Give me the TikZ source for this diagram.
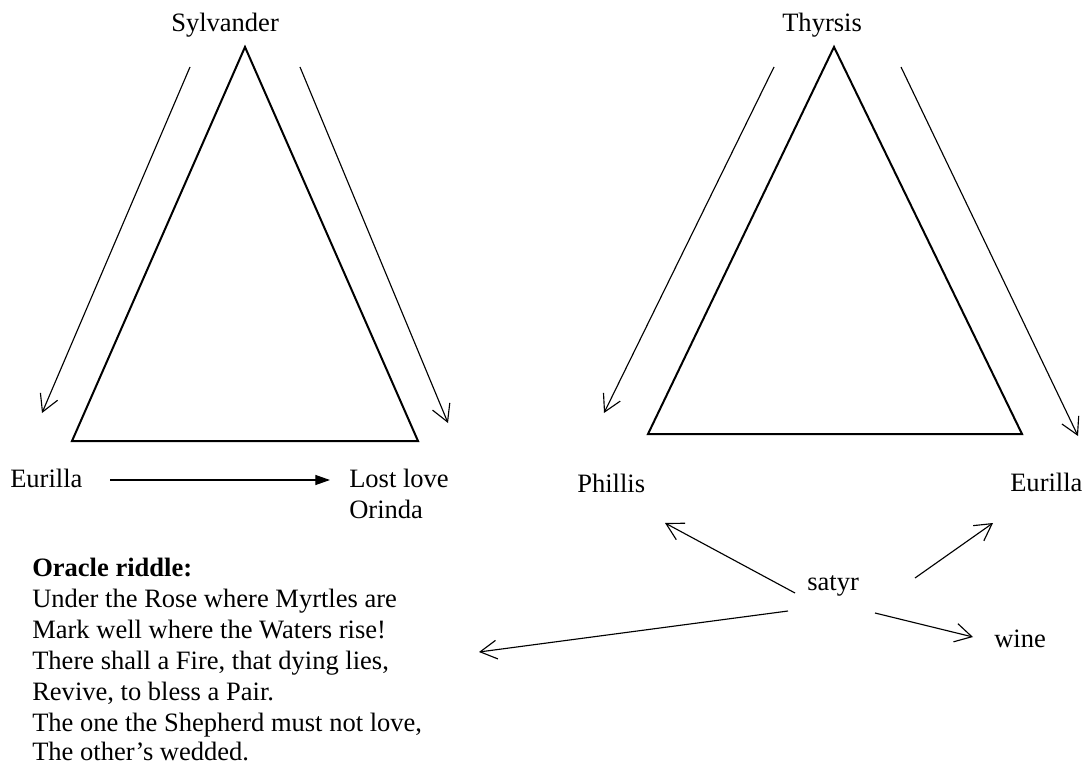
\documentclass[tikz,border=0pt]{standalone}
\usepackage{fontspec}
\setmainfont{Liberation Serif}
\usetikzlibrary{arrows.meta}
\begin{document}
\begin{tikzpicture}[x=0.75pt,y=-0.75pt,
  lbl/.style={inner sep=0pt, anchor=base west, font=\fontsize{19.9pt}{23pt}\selectfont},
  tri/.style={line width=1.5pt, line join=miter},
  side/.style={line width=0.85pt, -{Straight Barb[length=12.5pt,width=14pt,line width=0.85pt]}},
  fat/.style={line width=0.9pt, -{Triangle[length=11pt,width=7.5pt]}}]
\useasboundingbox (0,0) rectangle (1085,763);

% names
\node[lbl] (sylv) at (171,32) {Sylvander};
\node[lbl] (thyr) at (782,32) {Thyrsis};
\node[lbl] (eurA) at (10,487) {Eurilla};
\node[lbl] (lost) at (349,487) {Lost love};
\node[lbl] (orin) at (349,518) {Orinda};
\node[lbl] (phil) at (577,492) {Phillis};
\node[lbl] (eurB) at (1010,491) {Eurilla};
\node[lbl] (satyr) at (807,590) {satyr};
\node[lbl] (wine) at (994,647) {wine};

% left triangle and its side arrows
\coordinate (lA) at (245,47);
\coordinate (lB) at (72,441);
\coordinate (lC) at (418,441);
\draw[tri] (lA) -- (lB) -- (lC) -- cycle;
\coordinate (lls) at (190,67);  \coordinate (lle) at (42,413);
\coordinate (lrs) at (300,67);  \coordinate (lre) at (448,423);
\draw[side] (lls) -- (lle);
\draw[side] (lrs) -- (lre);

% right triangle and its side arrows
\coordinate (rA) at (834,47);
\coordinate (rB) at (648,434);
\coordinate (rC) at (1022,434);
\draw[tri] (rA) -- (rB) -- (rC) -- cycle;
\coordinate (rls) at (774,67);  \coordinate (rle) at (604,413);
\coordinate (rrs) at (901,67);  \coordinate (rre) at (1078,436);
\draw[side] (rls) -- (rle);
\draw[side] (rrs) -- (rre);

% Eurilla to lost love
\coordinate (eS) at (110,480);
\coordinate (eE) at (330,480);
\draw[fat] (eS) -- (eE);

% arrows from the satyr
\coordinate (s1) at (795,593); \coordinate (t1) at (665,523);
\coordinate (s2) at (915,578); \coordinate (t2) at (993,523);
\coordinate (s3) at (875,613); \coordinate (t3) at (973,637);
\coordinate (s4) at (788,611); \coordinate (t4) at (479,652);
\draw[side] (s1) -- (t1);
\draw[side] (s2) -- (t2);
\draw[side] (s3) -- (t3);
\draw[side] (s4) -- (t4);

% the oracle's riddle
\node[lbl, font=\fontsize{19.9pt}{23pt}\selectfont\bfseries] (r0) at (32,576) {Oracle riddle:};
\node[lbl] (r1) at (32,607) {Under the Rose where Myrtles are};
\node[lbl] (r2) at (32,638) {Mark well where the Waters rise!};
\node[lbl] (r3) at (32,669) {There shall a Fire, that dying lies,};
\node[lbl] (r4) at (32,700) {Revive, to bless a Pair.};
\node[lbl] (r5) at (32,731) {The one the Shepherd must not love,};
\node[lbl] (r6) at (32,760) {The other’s wedded.};
\end{tikzpicture}
\end{document}
